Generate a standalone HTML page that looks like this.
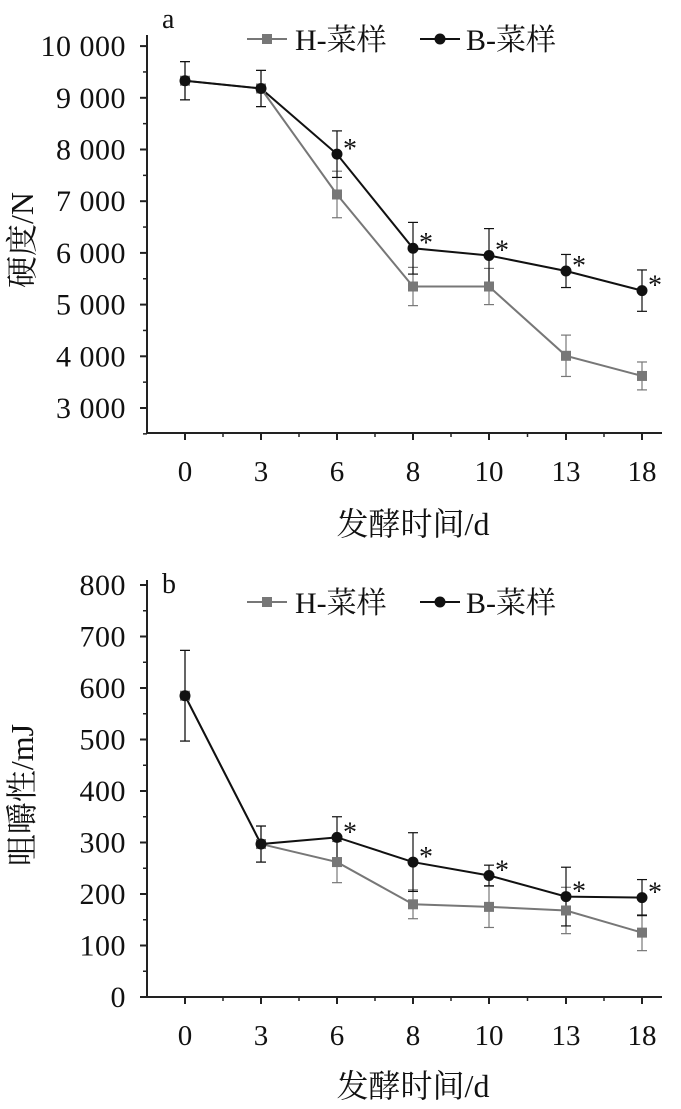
<!DOCTYPE html>
<html><head><meta charset="utf-8"><style>
body{margin:0;background:#fff}
svg{display:block}
text{font-family:"Liberation Serif","Noto Serif CJK SC",serif;fill:#111}
</style></head><body>
<svg id="s" width="681" height="1109" xmlns="http://www.w3.org/2000/svg">
<text x="162" y="28" font-size="28">a</text>
<text x="162" y="593" font-size="28">b</text>
<text x="0" y="0" font-size="32" transform="translate(33,240) rotate(-90)" text-anchor="middle">硬度/N</text>
<text x="0" y="0" font-size="32" transform="translate(33,795) rotate(-90)" text-anchor="middle">咀嚼性/mJ</text>
<text x="413" y="535" font-size="32" text-anchor="middle">发酵时间/d</text>
<text x="413" y="1097" font-size="32" text-anchor="middle">发酵时间/d</text>
</svg>
<script>
const s=document.getElementById('s');const NS='http://www.w3.org/2000/svg';
function el(t,a,txt){const e=document.createElementNS(NS,t);for(const k in a)e.setAttribute(k,a[k]);if(txt!==undefined)e.textContent=txt;s.appendChild(e);return e;}
const xs=[185,261,337,413,489,566,642];const xl=['0','3','6','8','10','13','18'];
function chart(o){
 const X0=147,XA=o.xa;
 el('line',{x1:X0,y1:o.top,x2:X0,y2:XA,stroke:'#222','stroke-width':2});
 el('line',{x1:X0-1,y1:XA,x2:662,y2:XA,stroke:'#222','stroke-width':2});
 o.ticks.forEach(t=>{const y=o.f(t.v);el('line',{x1:X0-7,y1:y,x2:X0,y2:y,stroke:'#222','stroke-width':2});el('text',{x:X0-21,y:y+10,'font-size':30,'letter-spacing':'0.5','text-anchor':'end'},t.l);});
 o.minor.forEach(v=>{const y=o.f(v);el('line',{x1:X0-4,y1:y,x2:X0,y2:y,stroke:'#222','stroke-width':1.5});});
 xs.forEach((x,i)=>{el('line',{x1:x,y1:XA,x2:x,y2:XA+7,stroke:'#222','stroke-width':2});el('text',{x:x,y:XA+48,'font-size':29,'text-anchor':'middle'},xl[i]);
  if(i<6)el('line',{x1:(x+xs[i+1])/2,y1:XA,x2:(x+xs[i+1])/2,y2:XA+4,stroke:'#222','stroke-width':1.5});});
 [[o.H,o.He,'#777'],[o.B,o.Be,'#111']].forEach(([d,e,c])=>{
  el('polyline',{points:d.map((v,i)=>xs[i]+','+o.f(v)).join(' '),fill:'none',stroke:c,'stroke-width':2});
  d.forEach((v,i)=>{const a=o.f(v+e[i]),b=o.f(v-e[i]);el('line',{x1:xs[i],y1:a,x2:xs[i],y2:b,stroke:c,'stroke-width':1.2});
   el('line',{x1:xs[i]-5,y1:a,x2:xs[i]+5,y2:a,stroke:c,'stroke-width':1.2});el('line',{x1:xs[i]-5,y1:b,x2:xs[i]+5,y2:b,stroke:c,'stroke-width':1.2});});
 });
 o.H.forEach((v,i)=>el('rect',{x:xs[i]-5,y:o.f(v)-5,width:10,height:10,fill:'#777'}));
 o.B.forEach((v,i)=>{el('circle',{cx:xs[i],cy:o.f(o.B[i]),r:5.5,fill:'#111'});if(i>=2)el('text',{x:xs[i]+6,y:o.f(v)+4,'font-size':28},'*');});
 const ly=o.ly;
 el('line',{x1:247,y1:ly,x2:287,y2:ly,stroke:'#777','stroke-width':2});el('rect',{x:262,y:ly-5,width:10,height:10,fill:'#777'});
 el('text',{x:295,y:ly+11,'font-size':30},'H-菜样');
 el('line',{x1:420,y1:ly,x2:460,y2:ly,stroke:'#111','stroke-width':2});el('circle',{cx:440,cy:ly,r:5.5,fill:'#111'});
 el('text',{x:466,y:ly+11,'font-size':30},'B-菜样');
}
chart({xa:433,top:35,f:v=>408-(v-3000)*0.0517,ly:39,
 ticks:[{v:10000,l:'10 000'},{v:9000,l:'9 000'},{v:8000,l:'8 000'},{v:7000,l:'7 000'},{v:6000,l:'6 000'},{v:5000,l:'5 000'},{v:4000,l:'4 000'},{v:3000,l:'3 000'}],
 minor:[9500,8500,7500,6500,5500,4500,3500,2500],
 H:[9330,9180,7130,5350,5350,4010,3620],He:[370,350,450,370,350,400,270],
 B:[9330,9180,7910,6090,5950,5650,5270],Be:[370,350,450,500,520,320,400]});
chart({xa:997,top:580,f:v=>997-v*0.515,ly:602,
 ticks:[800,700,600,500,400,300,200,100,0].map(v=>({v:v,l:String(v)})),
 minor:[750,650,550,450,350,250,150,50],
 H:[585,297,262,180,175,168,125],He:[88,35,40,28,40,45,35],
 B:[585,297,310,262,236,195,193],Be:[88,35,40,57,20,57,35]});
</script>
</body></html>
